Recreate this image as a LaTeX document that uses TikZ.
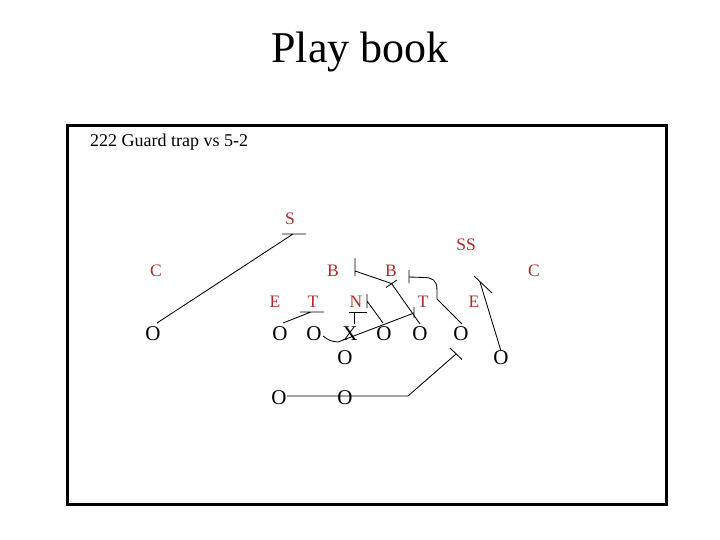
\documentclass[tikz,border=0pt]{standalone}
\usepackage{fontspec}
\setmainfont{Liberation Serif}
\usetikzlibrary{calc}
\definecolor{defred}{RGB}{180,40,40}
\tikzset{
  off/.style={inner sep=0pt, font=\fontsize{21}{21}\selectfont},
  def/.style={inner sep=0pt, text=defred, font=\fontsize{17.5}{17.5}\selectfont},
  route/.style={line width=0.85pt, black},
}
\begin{document}
\begin{tikzpicture}[x=1pt,y=-1pt]
\useasboundingbox (0,0) rectangle (720,540);
% title
\node[inner sep=0pt, anchor=base, font=\fontsize{44}{44}\selectfont] (title) at (360,63) {Play book};
% frame
\draw[line width=3pt] (67,126) rectangle (666,504);
\node[inner sep=0pt, anchor=base west, font=\fontsize{18}{18}\selectfont] (play) at (90,147) {222 Guard trap vs 5-2};
% defense
\node[def] (S) at (290,219) {S};
\node[def] (SS) at (466,245) {SS};
\node[def] (CL) at (156,271) {C};
\node[def] (BL) at (333,271) {B};
\node[def] (BR) at (391,271) {B};
\node[def] (CR) at (534,271) {C};
\node[def] (EL) at (275,302) {E};
\node[def] (TL) at (313,302) {T};
\node[def] (N) at (356,302) {N};
\node[def] (TR) at (423,302) {T};
\node[def] (ER) at (474,302) {E};
% offense
\node[off] (o1) at (153,334) {O};
\node[off] (o2) at (280,334) {O};
\node[off] (o3) at (314,334) {O};
\node[off] (x) at (350,334) {X};
\node[off] (o4) at (384,334) {O};
\node[off] (o5) at (420,334) {O};
\node[off] (o6) at (461,334) {O};
\node[off] (qb) at (345,358) {O};
\node[off] (o7) at (501,358) {O};
\node[off] (fb1) at (279,398) {O};
\node[off] (fb2) at (345,398) {O};
% block points
\coordinate (sblk) at (293,234);
\coordinate (tblk) at (311,312);
\coordinate (nblk) at (354.5,312);
\coordinate (trap1) at (338,342);
\coordinate (trblk) at (414,313);
\coordinate (b4) at (367,301);
\coordinate (b5) at (391.5,283.5);
\coordinate (b5b) at (355,271);
\coordinate (c6a) at (437,299);
\coordinate (c6b) at (437,290);
\coordinate (c6c) at (409,277);
\coordinate (e7) at (480,282);
\coordinate (fbb) at (408,396);
\coordinate (fbe) at (456,354);
% routes
\draw[route] ($(o1)+(4,-11)$) -- (sblk) ++(-11,0) -- ++(24,0);
\draw[route] ($(o2)+(3,-11)$) -- (tblk) ++(-11,0) -- ++(24,0);
\draw[route] ($(x)+(4.5,-10)$) -- (nblk) ++(-6,0) -- ++(18,0);
\draw[route] ($(o3)+(9,2)$) .. controls (330,341) .. (trap1) -- (trblk) ++(0,-6) -- ++(0,11);
\draw[route] ($(o4)+(-1,-11)$) -- (b4) ++(0,-7) -- ++(0,14);
\draw[route] ($(o5)+(0,-10)$) -- (b5) -- (b5b) ++(0,-13) -- ++(0,18);
\draw[route] (386,287.5) -- (397,280);
\draw[route] ($(o6)+(1,-10)$) -- (c6a) -- (c6b) .. controls (437,280) and (432,277.5) .. (424,277.5) -- (c6c) ++(0,-7) -- ++(0,13);
\draw[route] ($(o7)+(0,-7)$) -- (e7);
\draw[route] (474,276) -- (492,293);
\draw[route] ($(fb1)+(8,-2)$) -- ($(fb2)+(0,-2)$) -- (fbb) -- (fbe);
\draw[route] (450,348) -- (462,359.5);
\end{tikzpicture}
\end{document}
